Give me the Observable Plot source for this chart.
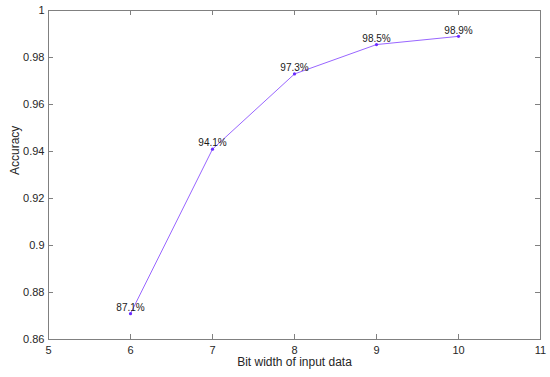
<!DOCTYPE html>
<html>
<head>
<meta charset="utf-8">
<script src="https://cdn.jsdelivr.net/npm/d3@7"></script>
<script src="https://cdn.jsdelivr.net/npm/@observablehq/plot@0.6"></script>
<style>
  html, body { margin: 0; padding: 0; background: #fff; }
  #chart svg { display: block; }
</style>
</head>
<body>
<div id="chart"></div>
<script>
const bitWidths = [6, 7, 8, 9, 10];
const accuracy = [0.871, 0.941, 0.973, 0.9855, 0.989];
const pointLabels = ["87.1%", "94.1%", "97.3%", "98.5%", "98.9%"];
const xTicks = [5, 6, 7, 8, 9, 10, 11];
const yTicks = [0.86, 0.88, 0.9, 0.92, 0.94, 0.96, 0.98, 1];
const xTitle = "Bit width of input data";
const yTitle = "Accuracy";

const data = bitWidths.map((x, i) => ({x, y: accuracy[i], label: pointLabels[i]}));

const W = 550, H = 377;
const mL = 48, mR = 10, mT = 10, mB = 38;
const innerW = W - mL - mR, innerH = H - mT - mB;
const axisColor = "#808080";
const textColor = "#262626";
const font = "Liberation Sans, Arial, Helvetica, sans-serif";

const chart = Plot.plot({
  width: W,
  height: H,
  marginLeft: mL,
  marginRight: mR,
  marginTop: mT,
  marginBottom: mB,
  style: {fontFamily: font, color: textColor, background: "#fff"},
  x: {domain: [5, 11], label: null},
  y: {domain: [0.86, 1], label: null},
  marks: [
    Plot.frame({stroke: axisColor, strokeWidth: 1}),
    // inward ticks on all four sides
    Plot.tickX(xTicks, {x: d => d, insetTop: innerH - 5, stroke: axisColor}),
    Plot.tickX(xTicks, {x: d => d, insetBottom: innerH - 5, stroke: axisColor}),
    Plot.tickY(yTicks, {y: d => d, insetRight: innerW - 5, stroke: axisColor}),
    Plot.tickY(yTicks, {y: d => d, insetLeft: innerW - 5, stroke: axisColor}),
    Plot.axisX(xTicks, {tickSize: 0, tickPadding: 7, fontSize: 11, fill: textColor}),
    Plot.axisY(yTicks, {tickSize: 0, tickPadding: 4, fontSize: 11, fill: textColor,
      tickFormat: d => String(+d.toFixed(2))}),
    Plot.text([xTitle], {frameAnchor: "bottom", text: d => d, lineAnchor: "middle", dy: 23, fontSize: 12, fill: textColor}),
    Plot.text([yTitle], {frameAnchor: "left", text: d => d, rotate: -90, dx: -33, fontSize: 12, fill: textColor}),
    Plot.line(data, {x: "x", y: "y", stroke: "#9966ff", strokeWidth: 1}),
    Plot.dot(data, {x: "x", y: "y", r: 1.6, fill: "#6a2cff", stroke: "none"}),
    Plot.text(data, {x: "x", y: "y", text: "label", dy: -6, fontSize: 10, fill: "#1a1a1a"})
  ]
});
document.getElementById("chart").appendChild(chart);
</script>
</body>
</html>
